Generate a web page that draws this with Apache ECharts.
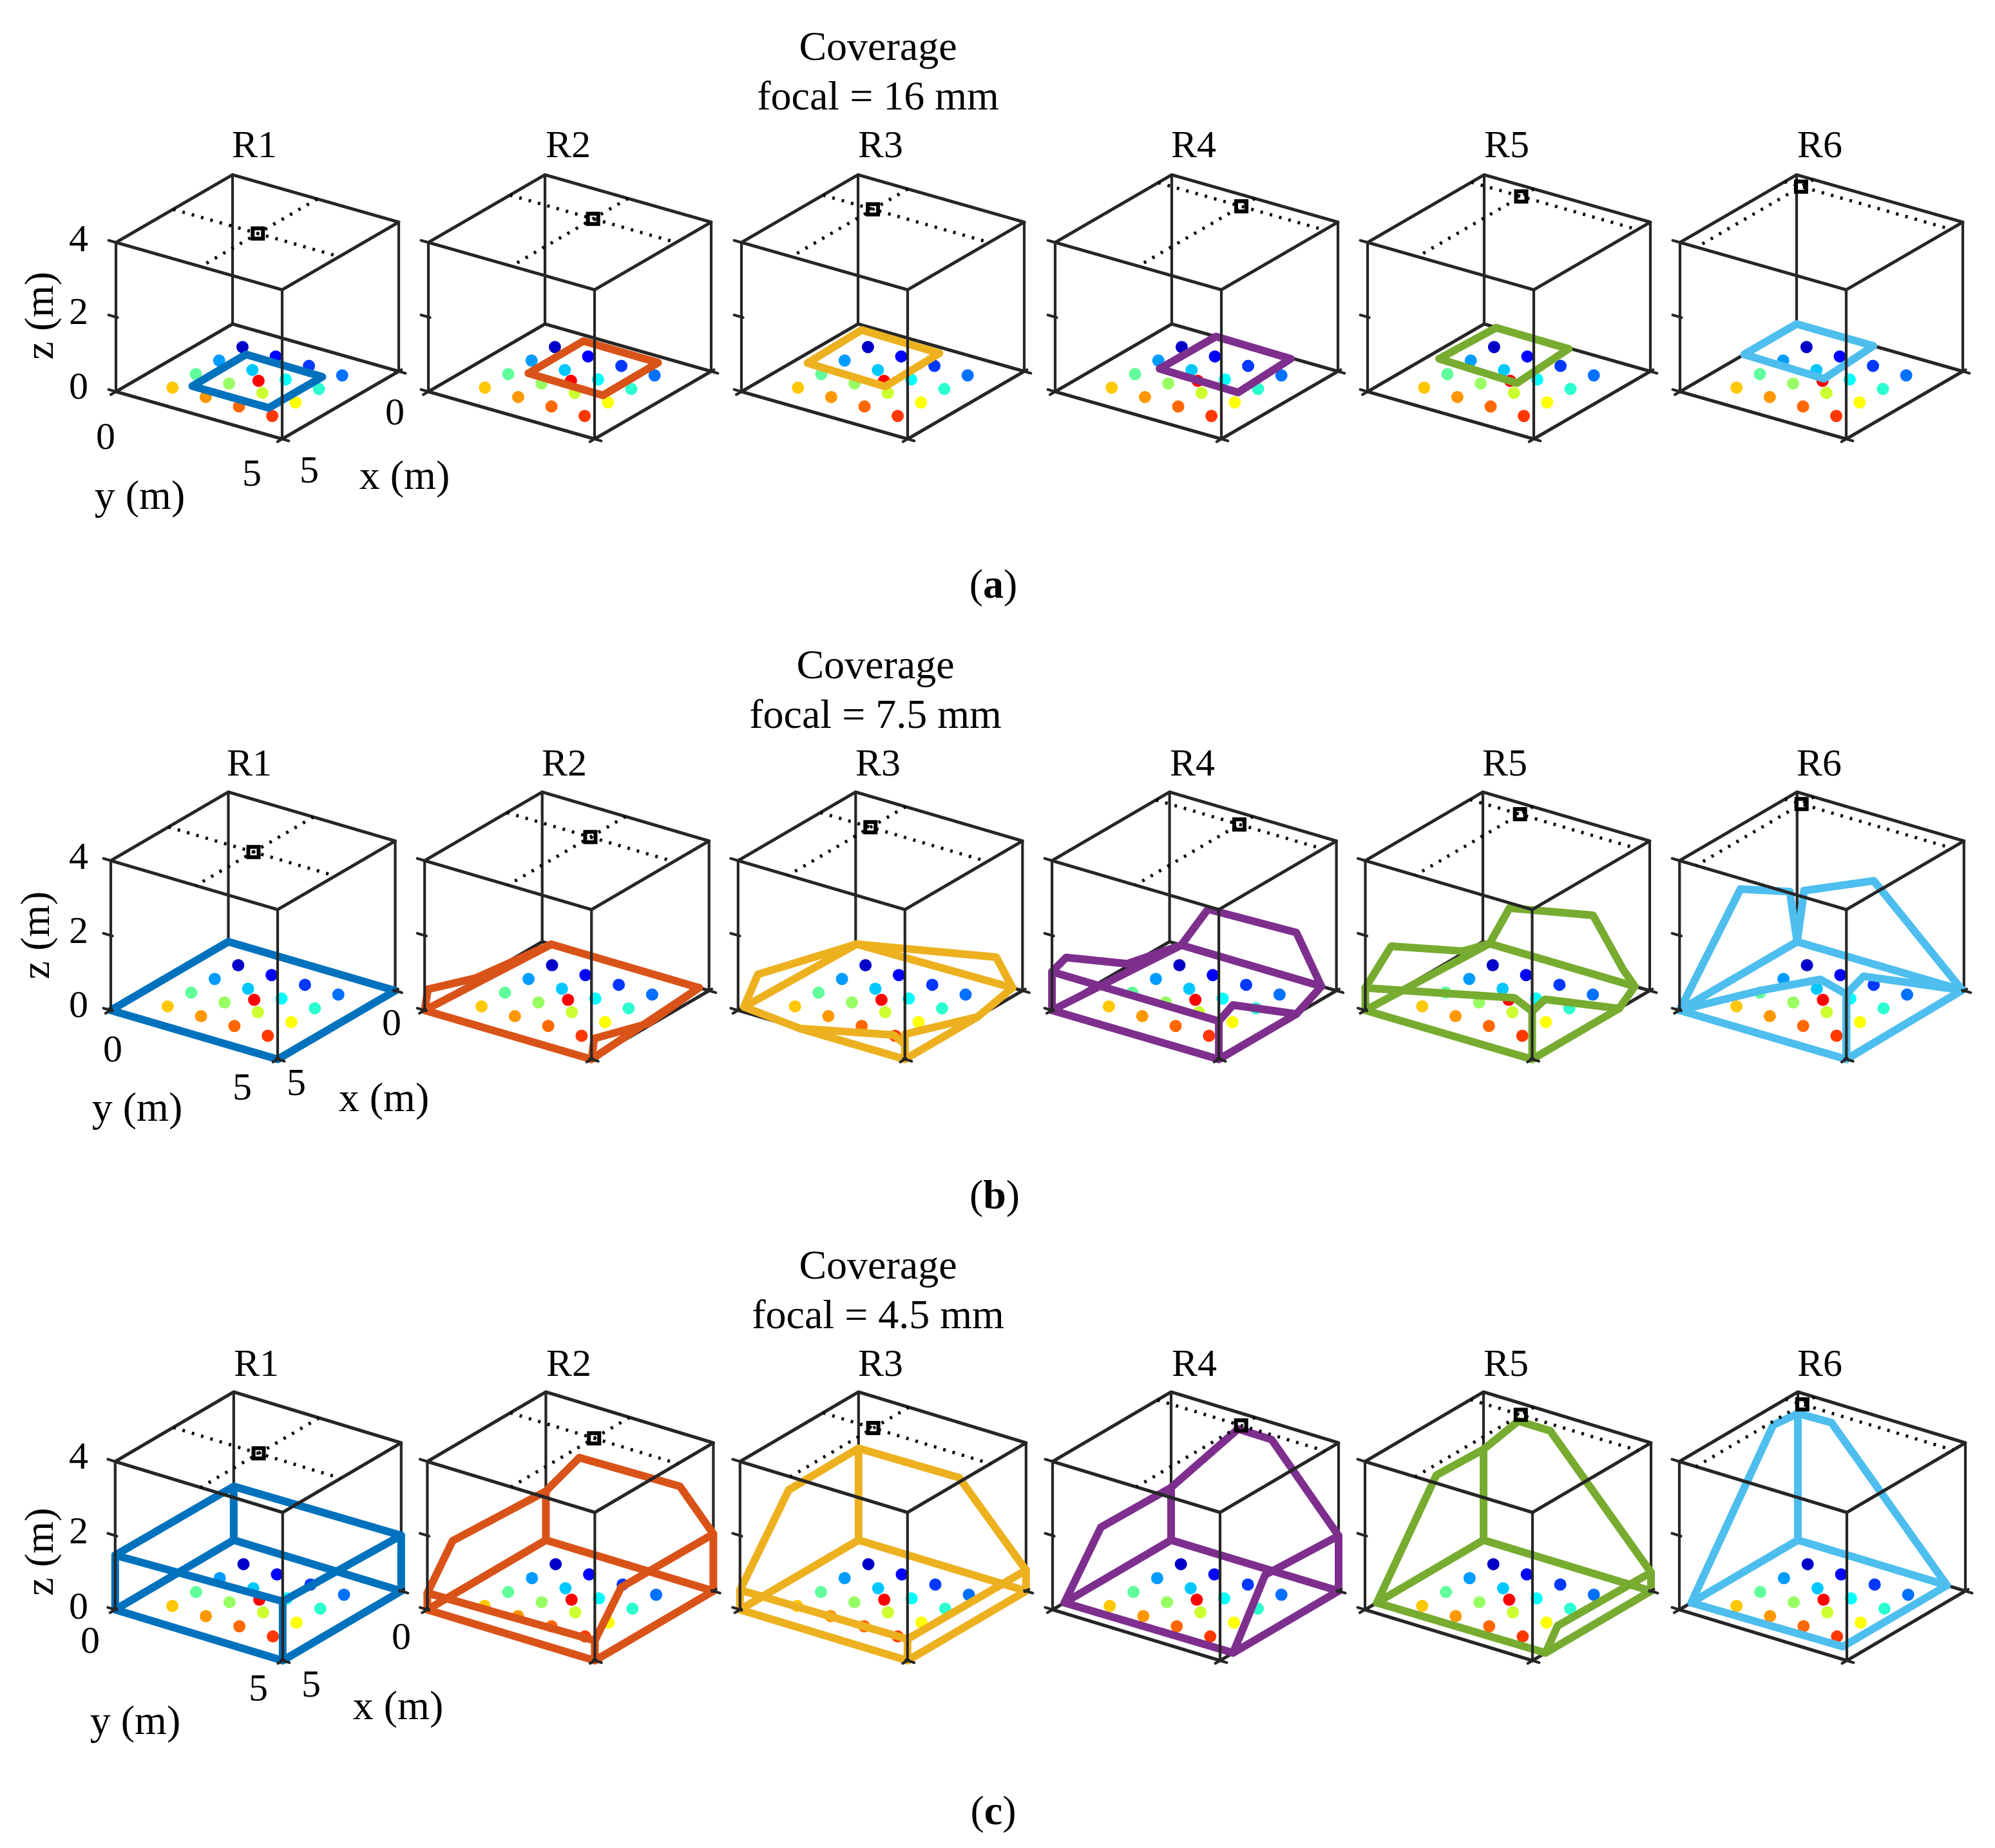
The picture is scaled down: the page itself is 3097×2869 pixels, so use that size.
<!DOCTYPE html>
<html><head><meta charset="utf-8">
<style>html,body{margin:0;padding:0;background:#fff}#main{width:3097px;height:2869px}</style>
<script src="https://cdn.jsdelivr.net/npm/echarts@6/dist/echarts.min.js"></script>
</head><body><div id="main"></div>
<script>
// ---------- data (metres) ----------
const roomSize = 5, roomHeight = 4;
const zTicks = [0, 2, 4];
const receivers = ['R1','R2','R3','R4','R5','R6'];
const focalTitles = ['focal = 16 mm','focal = 7.5 mm','focal = 4.5 mm'];
const captions = ['a','b','c'];
const seriesColors = ['#0072BD','#D95319','#EDB120','#7E2F8E','#77AC30','#4DBEEE'];
// floor luminaires / transmitters [x, y]
const floorPoints = [[1,1],[1,2],[1,3],[1,4],[2,1],[2,2],[2,3],[2,4],[3,1],[3,2],[3,3],[3,4],[4,1],[4,2],[4,3],[4,4],[2.45,2.5]];
const floorColors = ['#0000c8','#0000ff','#0038ff','#0070ff','#009cff','#00c8ff','#00ffff','#2cffd0','#60ff9c','#98ff64','#ccff30','#ffff00','#ffc800','#ff9800','#ff6800','#ff3800','#ff0000'];
// camera plan position per receiver
const cameraXY = [[2.55,2.55],[1.5,2.5],[1.5,1.5],[0.58,2.5],[0.55,1.5],[0.52,0.5]];
// coverage outlines, [x, y, z]
const coverage16 = [
 [[[3.65,1.35,0],[1.32,1.33,0],[1.35,3.65,0],[3.65,3.65,0],[3.65,1.35,0]]],
 [[[2.68,1.38,0],[0.3,1.37,0],[0.32,3.63,0],[2.72,3.65,0],[2.68,1.38,0]]],
 [[[2.65,0.34,0],[0.25,0.28,0],[0.3,2.66,0],[2.72,2.72,0],[2.65,0.34,0]]],
 [[[2.39,1.31,0],[0,1.33,0],[0.04,3.61,0],[2.46,3.72,0],[2.39,1.31,0]]],
 [[[2.36,0.3,0],[0.02,0.37,0],[0.04,2.57,0],[2.47,2.72,0],[2.36,0.3,0]]],
 [[[2.25,0,0],[0,0,0],[0,2.31,0],[2.33,2.46,0],[2.25,0,0]]]
];
const coverage75 = [
 [[[5,0,0],[0,0,0],[0,5,0],[5,5,0],[5,0,0]]],
 [[[5,0,0],[0,0.27,0],[0,4.7,0],[5,5,0],[5,0,0]],
  [[5,0,0],[4.86,0,0.51],[2.85,0,0.07],[0,0.27,0]],
  [[5,5,0],[4.88,5,0.51],[2.6,5,0.07],[0,4.7,0]]],
 [[[4.75,0,0],[0.1,0.1,0],[0,4.7,0],[1.9,5,0],[5,5,0],[5,1.85,0],[4.75,0,0]],
  [[4.75,0,0],[4.16,0,0.65],[0.1,0.1,0],[0,4.21,0.69],[0,4.7,0]],
  [[5,1.85,0],[5,4.66,0.56],[5,5,0.4],[5,5,0],[5,5,0.67],[1.9,5,0]]],
 [[[5,0,0],[0,0.35,0],[0,4.55,0],[1.7,5,0],[5,5,0],[5,0,0]],
  [[5,0,0],[5,0,1.03],[4.4,0,1.19],[1.8,0,0.07],[0,0.35,0],[0,1.15,1.17],[0,3.8,1.24],[0,4.55,0]],
  [[5,0,1.03],[5,5,1.02],[4.4,5,1.23],[1.7,5,0]],
  [[5,5,1.02],[5,5,0]]],
 [[[5,0,0],[0,0.2,0],[0,4.55,0],[1.3,5,0],[5,5,0],[5,0,0]],
  [[5,0,0],[5,0,0.6],[3.9,0,1.31],[0.85,0,0.06],[0,0.2,0],[0,0.8,1.11],[0,3.3,1.57],[0,4.2,0.36],[0,4.55,0]],
  [[5,0,0.6],[5,4.47,1.5],[5,5,1.28],[4.45,5,1.4],[1.3,5,0]],
  [[5,5,1.28],[5,5,0]]],
 [[[5,0,0],[0,0,0],[0,4.95,0],[5,5,0],[5,0,0]],
  [[5,0,0],[2.41,0,2.29],[0.31,0,1.45],[0,0,0],[0,0.21,1.42],[0,2.3,2.23],[0,4.95,0]],
  [[5,0,0],[5,2.44,1.17],[5,4.22,1.93],[5,5,1.74],[5,5,0]],
  [[5,5,0],[5,5,1.74],[4.27,5,1.95],[0,4.95,0]]]
];
const coverage45 = [
 [[[5,0,0],[0,0,0],[0,5,0],[5,5,0],[5,0,0]],
  [[5,0,1.47],[0,0,1.45],[0,5,1.5],[5,5,1.6],[5,0,1.47]],
  [[5,0,0],[5,0,1.47]],[[0,0,0],[0,0,1.45]],[[0,5,0],[0,5,1.5]],[[5,5,0],[5,5,1.6]]],
 [[[5,0,0],[0,0,0],[0,5,0],[5,5,0],[5,0,0]],
  [[5,0,0.45],[3.93,0,1.46],[0,0,1.32],[0,1,2.5],[0,4,2.55],[0,5,1.54],[3.89,5,1.56],[5,5,0.54],[5,0,0.45]],
  [[5,0,0],[5,0,0.45]],[[0,0,0],[0,0,1.32]],[[0,5,0],[0,5,1.54]],[[5,5,0],[5,5,0.54]]],
 [[[5,0,0],[0,0,0],[0,5,0],[5,5,0],[5,0,0]],
  [[5,0,0.53],[2.95,0,2.46],[0,0,2.48],[0,3,2.51],[0,5,0.56],[5,5,0.58],[5,0,0.53]],
  [[5,0,0],[5,0,0.53]],[[0,0,0],[0,0,2.48]],[[0,5,0],[0,5,0.56]],[[5,5,0],[5,5,0.58]]],
 [[[4.5,0,0],[0,0,0],[0,5,0],[4.45,5,0],[4.5,0,0]],
  [[4.5,0,0],[2.96,0,1.46],[0,0,1.42],[0,2,3.55],[0,3,3.54],[0,5,1.49],[3.1,5,1.6],[4.45,5,0]],
  [[0,0,0],[0,0,1.42]],[[0,5,0],[0,5,1.49]]],
 [[[4.5,0,0],[0,0,0],[0,5,0],[4.45,5,0],[4.5,0,0]],
  [[4.5,0,0],[1.99,0,2.5],[0,0,2.45],[0,1.04,3.5],[0,1.99,3.5],[0,5,0.5],[3.94,5,0.54],[4.45,5,0]],
  [[0,0,0],[0,0,2.45]],[[0,5,0],[0,5,0.5]]],
 [[[4.5,0,0],[0,0,0],[0,4.45,0],[4.4,4.45,0],[4.5,0,0]],
  [[4.5,0,0],[1.04,0,3.5],[0,0,3.42],[0,1,3.45],[0,4.45,0]],
  [[0,0,0],[0,0,3.42]]]
];
const coverageRows = [coverage16, coverage75, coverage45];

// ---------- layout & view ----------
const rowViews = [
 {ex:[-36.2,21.0], ey:[51.6,14.7], ez:57.9, by:503,  backX:[361,846,1332,1819,2304,2789]},
 {ex:[-36.5,21.3], ey:[51.8,15.2], ez:58.1, by:1462, backX:[354.5,841.7,1328.3,1815.6,2302,2789.8]},
 {ex:[-36.8,21.6], ey:[52.0,15.8], ez:57.5, by:2391, backX:[362.8,847.4,1332.8,1818,2303,2791]}
];
const U0 = -230, U1 = 290, V0 = -190, V1 = 260;
const INK = '#262626';
const grids = [], xAxes = [], yAxes = [], series = [];
function project(view, p){
  return [p[0]*view.ex[0] + p[1]*view.ey[0],
          p[2]*view.ez - p[0]*view.ex[1] - p[1]*view.ey[1]];
}
function addPath(idx, view, pts, color, width, z, dash){
  series.push({type:'line', xAxisIndex:idx, yAxisIndex:idx, data:pts.map(p=>project(view,p)),
    showSymbol:false, symbol:'none', clip:false, z, silent:true, animation:false,
    lineStyle:{color, width, opacity:1, type:dash||'solid', cap:dash?'butt':'round', join:'round'}});
}
coverageRows.forEach((rowData, r)=>{
  const v = rowViews[r];
  receivers.forEach((name, c)=>{
    const idx = grids.length;
    grids.push({left:v.backX[c]+U0, top:v.by-V1, width:U1-U0, height:V1-V0, containLabel:false, show:false});
    xAxes.push({type:'value', gridIndex:idx, min:U0, max:U1, show:false, scale:true});
    yAxes.push({type:'value', gridIndex:idx, min:V0, max:V1, show:false, scale:true});
    const S = roomSize, H = roomHeight;
    // rear box edges
    addPath(idx,v,[[S,0,0],[0,0,0],[0,S,0],[S,S,0],[S,0,0]],INK,5,2);
    addPath(idx,v,[[0,0,0],[0,0,H]],INK,4.2,2);
    addPath(idx,v,[[0,S,0],[0,S,H]],INK,4.2,2);
    // floor points
    series.push({type:'scatter', xAxisIndex:idx, yAxisIndex:idx, symbol:'circle', symbolSize:19, z:3, silent:true, animation:false, clip:false,
      data:floorPoints.map((p,i)=>({value:project(v,[p[0],p[1],0]), itemStyle:{color:floorColors[i], opacity:1}}))});
    // coverage
    rowData[c].forEach(poly=>addPath(idx,v,poly,seriesColors[c],12,4));
    // front box edges & top
    addPath(idx,v,[[S,0,H],[0,0,H],[0,S,H],[S,S,H],[S,0,H]],INK,5,5);
    addPath(idx,v,[[S,0,0],[S,0,H]],INK,4.2,5);
    addPath(idx,v,[[S,S,0],[S,S,H]],INK,4.2,5);
    // ticks
    zTicks.forEach(t=>addPath(idx,v,[[S,-0.22,t],[S,0.05,t]],INK,4.2,5));
    addPath(idx,v,[[S+0.22,0,0],[S-0.05,0,0]],INK,4.2,5);
    addPath(idx,v,[[S,S+0.2,0],[S,S-0.05,0]],INK,4.2,5);
    addPath(idx,v,[[S+0.2,S,0],[S-0.05,S,0]],INK,4.2,5);
    addPath(idx,v,[[0,S+0.2,0],[0,S-0.05,0]],INK,4.2,5);
    addPath(idx,v,[[-0.12,S,0],[0.05,S,0]],INK,4.2,5);
    // camera
    const cam = cameraXY[c];
    addPath(idx,v,[[cam[0],0,H],[cam[0],S,H]],'#000',5,5,[4,11]);
    addPath(idx,v,[[0,cam[1],H],[S,cam[1],H]],'#000',5,5,[4,11]);
    series.push({type:'scatter', xAxisIndex:idx, yAxisIndex:idx, symbol:'rect', symbolSize:16, z:6, silent:true, animation:false, clip:false,
      itemStyle:{color:'rgba(255,255,255,0)', borderColor:'#000', borderWidth:6, opacity:1},
      data:[project(v,[cam[0],cam[1],H])]});
  });
});

// ---------- text ----------
const FONT = '"Liberation Serif","Times New Roman",serif', FS = 60;
const textEls = [];
function txt(text,x,y,opt){
  opt = opt||{};
  textEls.push({type:'text', x, y, rotation:opt.rot||0, z:20, silent:true,
    style:{text, fontFamily:FONT, fontSize:opt.size||FS, fill:'#000', align:'center', verticalAlign:'middle', rich:opt.rich}});
}
const headerY = [[76,153],[1036,1113],[1968,2045]], headerX = [1363,1359,1363];
const rTitleX = [[395,882,1367,1853,2339,2825],[387,876,1363,1851,2336,2824],[398,883,1367,1854,2338,2825]];
const rTitleY = [228,1188,2120];
const capPos = [[1542,911],[1544,1859],[1542,2815]];
const tickPos = [
 {z:[[122,603],[122,487],[122,374]], y0:[164,681], y5:[391,738], x5:[480,733], x0:[613,643], yl:[217,773], xl:[628,742], zl:[65,490]},
 {z:[[122,1563],[122,1448],[122,1333]], y0:[175,1632], y5:[376,1691], x5:[460,1684], x0:[608,1591], yl:[213,1723], xl:[596,1708], zl:[59,1452]},
 {z:[[122,2497],[122,2380],[122,2264]], y0:[140,2550], y5:[401,2624], x5:[483,2618], x0:[623,2544], yl:[210,2675], xl:[618,2652], zl:[65,2409]}
];
[0,1,2].forEach(r=>{
  txt('Coverage',headerX[r],headerY[r][0],{size:64});
  txt(focalTitles[r],headerX[r],headerY[r][1],{size:64});
  receivers.forEach((n,c)=>txt(n,rTitleX[r][c],rTitleY[r]));
  const t = tickPos[r];
  zTicks.forEach((v,i)=>txt(String(v),t.z[i][0],t.z[i][1]));
  txt('0',t.y0[0],t.y0[1]); txt('5',t.y5[0],t.y5[1]);
  txt('5',t.x5[0],t.x5[1]); txt('0',t.x0[0],t.x0[1]);
  txt('y (m)',t.yl[0],t.yl[1],{size:64}); txt('x (m)',t.xl[0],t.xl[1],{size:64});
  txt('z (m)',t.zl[0],t.zl[1],{rot:Math.PI/2,size:64});
  txt('({b|'+captions[r]+'})',capPos[r][0],capPos[r][1],{size:64,rich:{b:{fontFamily:FONT,fontSize:64,fontWeight:'bold',fill:'#000'}}});
});

const chart = echarts.init(document.getElementById('main'),null,{renderer:'canvas',width:3097,height:2869});
chart.setOption({backgroundColor:'#fff',animation:false,tooltip:{show:false},legend:{show:false},
  grid:grids,xAxis:xAxes,yAxis:yAxes,series,graphic:{elements:textEls}});
</script></body></html>
